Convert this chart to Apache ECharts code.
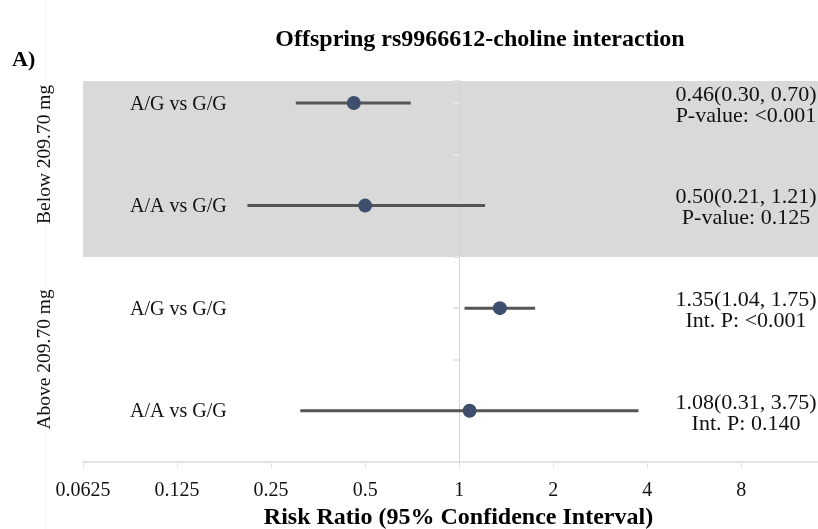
<!DOCTYPE html>
<html>
<head>
<meta charset="utf-8">
<script src="https://cdn.jsdelivr.net/npm/echarts@6/dist/echarts.min.js"></script>
<style>
html,body{margin:0;padding:0;background:#fff;}
#main{width:818px;height:529px;}
</style>
</head>
<body>
<div id="main"></div>
<script>
// ---- data ----
const titleText = 'Offspring rs9966612-choline interaction';
const panelLabel = 'A)';
const axisTitle = 'Risk Ratio (95% Confidence Interval)';
const rowLabels = ['A/G vs G/G', 'A/A vs G/G', 'A/G vs G/G', 'A/A vs G/G'];
const groupLabels = ['Below 209.70 mg', 'Above 209.70 mg'];
const estimates = [0.46, 0.50, 1.35, 1.08];
const lowerCI = [0.30, 0.21, 1.04, 0.31];
const upperCI = [0.70, 1.21, 1.75, 3.75];
const pLabels = ['P-value: <0.001', 'P-value: 0.125', 'Int. P: <0.001', 'Int. P: 0.140'];
const tickLabels = ['0.0625', '0.125', '0.25', '0.5', '1', '2', '4', '8'];

// ---- derived ----
const nRows = rowLabels.length;
const rowY = rowLabels.map((_, i) => nRows - i);
const FONT = '"Liberation Serif", "Times New Roman", serif';
const GRID = {left: 83, right: 0, top: 81, bottom: 67, outerBoundsMode: 'none', containLabel: false};
const Y_MAX = 4.215;
const bandFrom = (rowY[1] + rowY[2]) / 2;

const chart = echarts.init(document.getElementById('main'), null, {renderer: 'canvas'});

const rowIndex = (v) => {
  if (!Number.isInteger(v)) return -1;
  const i = nRows - v;
  return (i >= 0 && i < nRows) ? i : -1;
};
const fmtRight = (v) => {
  const i = rowIndex(v);
  if (i < 0) return '';
  return '{a|' + estimates[i].toFixed(2) + '(' + lowerCI[i].toFixed(2) + ', ' + upperCI[i].toFixed(2) + ')}\n{b|' + pLabels[i] + '}';
};
const fmtLeft = (v) => {
  const i = rowIndex(v);
  return i < 0 ? '' : '{a|' + rowLabels[i] + '}';
};

const baseY = {type: 'value', min: 0.5, max: Y_MAX, interval: 0.5, splitLine: {show: false}};

const option = {
  animation: false,
  backgroundColor: '#ffffff',
  textStyle: {fontFamily: FONT},
  title: {
    text: titleText,
    left: 475, top: 23, textAlign: 'center',
    textStyle: {fontFamily: FONT, fontWeight: 'bold', fontSize: 24, color: '#000'}
  },
  grid: GRID,
  xAxis: {
    type: 'log', logBase: 2, min: 0.0625, max: 14.08,
    axisLine: {show: true, lineStyle: {color: '#e3e3e3', width: 2}},
    axisTick: {show: true, length: 6, lineStyle: {color: '#e3e3e3', width: 1}},
    splitLine: {show: false},
    axisLabel: {
      showMaxLabel: false, margin: 19,
      fontFamily: FONT, fontSize: 20, color: '#111',
      formatter: (v) => {
        const k = Math.round(Math.log2(v)) + 4;
        return tickLabels[k] !== undefined ? tickLabels[k] : '';
      }
    },
    name: axisTitle, nameLocation: 'middle', nameGap: 44,
    nameTextStyle: {fontFamily: FONT, fontWeight: 'bold', fontSize: 24, color: '#000', padding: [0, 0, 0, 16]}
  },
  yAxis: [
    Object.assign({}, baseY, {
      position: 'left', offset: 0, z: 3,
      axisLine: {show: true, lineStyle: {color: '#d2d2d2', width: 1}},
      axisTick: {show: true, length: 6, lineStyle: {color: '#e4e4e4', width: 2}},
      axisLabel: {show: false}
    }),
    Object.assign({}, baseY, {
      position: 'right', offset: 0, z: 10,
      axisLine: {show: false}, axisTick: {show: false},
      axisLabel: {
        show: true, margin: -72, align: 'center',
        fontFamily: FONT, fontSize: 22, color: '#111', formatter: fmtRight,
        rich: {
          a: {fontFamily: FONT, fontSize: 22, color: '#111', lineHeight: 22, padding: [6, 0, 0, 0], align: 'center'},
          b: {fontFamily: FONT, fontSize: 22, color: '#111', lineHeight: 22, padding: [4, 0, 0, 0], align: 'center'}
        }
      }
    }),
    Object.assign({}, baseY, {
      position: 'left', offset: 0, z: 10,
      axisLine: {show: false}, axisTick: {show: false},
      axisLabel: {
        show: true, margin: -47, align: 'left',
        fontFamily: FONT, fontSize: 20, color: '#111', formatter: fmtLeft,
        rich: {
          a: {fontFamily: FONT, fontSize: 20, color: '#111', lineHeight: 22, padding: [3, 0, 0, 0]}
        }
      }
    })
  ],
  series: [
    {
      type: 'scatter', z: 1, symbolSize: 0, silent: true,
      data: [],
      markArea: {
        silent: true,
        itemStyle: {color: '#d9d9d9'},
        data: [[{yAxis: bandFrom}, {yAxis: Y_MAX}]]
      }
    },
    {
      type: 'custom', z: 5,
      data: rowY.map((y, i) => [lowerCI[i], upperCI[i], y]),
      encode: {x: [0, 1], y: 2},
      renderItem: (params, api) => {
        const p1 = api.coord([api.value(0), api.value(2)]);
        const p2 = api.coord([api.value(1), api.value(2)]);
        return {
          type: 'line',
          shape: {x1: p1[0], y1: p1[1], x2: p2[0], y2: p2[1]},
          style: {stroke: '#555555', lineWidth: 3}
        };
      }
    },
    {
      type: 'scatter', z: 6, symbol: 'circle', symbolSize: 14,
      itemStyle: {color: '#3d4f6c', opacity: 1},
      data: rowY.map((y, i) => [estimates[i], y])
    }
  ]
};
chart.setOption(option);

// place the reference axis at RR = 1 and the group / panel labels
const px1 = chart.convertToPixel({xAxisIndex: 0}, 1);
const groupY = [
  chart.convertToPixel({yAxisIndex: 0}, (rowY[0] + rowY[1]) / 2),
  chart.convertToPixel({yAxisIndex: 0}, (rowY[2] + rowY[3]) / 2)
];
chart.setOption({
  yAxis: [{offset: GRID.left - px1}],
  graphic: [
    {type: 'line', shape: {x1: 46, y1: 0, x2: 46, y2: 529}, style: {stroke: '#f3f3f3', lineWidth: 1}, z: 0},
    {type: 'text', x: 12, y: 60, style: {text: panelLabel, font: 'bold 22px ' + FONT, fill: '#000', verticalAlign: 'middle'}},
    {type: 'text', x: 45, y: groupY[0], rotation: Math.PI / 2,
     style: {text: groupLabels[0], font: '19.5px ' + FONT, fill: '#111', align: 'center', verticalAlign: 'middle'}},
    {type: 'text', x: 45, y: groupY[1], rotation: Math.PI / 2,
     style: {text: groupLabels[1], font: '19.5px ' + FONT, fill: '#111', align: 'center', verticalAlign: 'middle'}}
  ]
});
</script>
</body>
</html>
